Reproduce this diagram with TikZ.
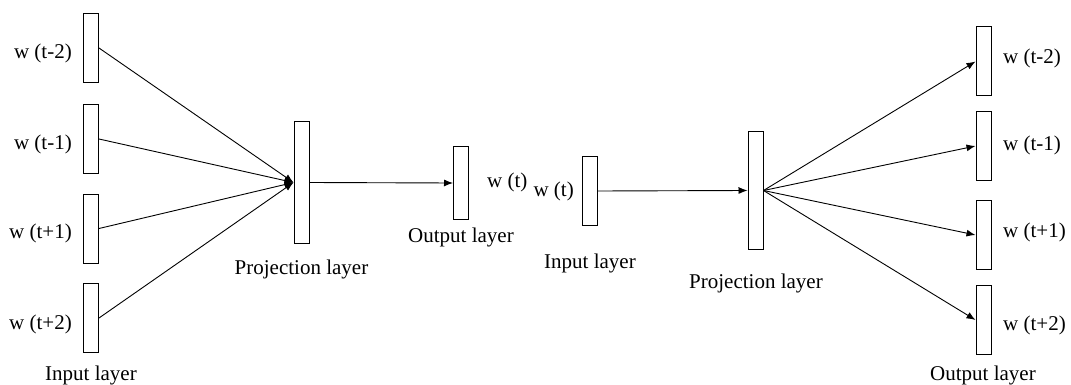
\documentclass[tikz,border=0pt]{standalone}
\usepackage{fontspec}
\setmainfont{Liberation Serif}
\usetikzlibrary{arrows.meta}
\begin{document}
\begin{tikzpicture}[x=1pt,y=-1pt,
    layer/.style={rectangle,draw,line width=1pt,minimum width=15pt,minimum height=69pt,inner sep=0pt},
    lbl/.style={font=\fontsize{21}{25}\selectfont,inner sep=0pt},
    conn/.style={line width=0.9pt,-{Latex[length=9pt,width=7pt]}}]
\useasboundingbox (0,0) rectangle (1071,385);
% CBOW
\node[layer] (i1) at (91,48) {};
\node[layer] (i2) at (91,139) {};
\node[layer] (i3) at (91,228.5) {};
\node[layer] (i4) at (91,318) {};
\node[layer,minimum height=121pt] (p1) at (301.5,182.5) {};
\node[layer,minimum height=72pt] (o1) at (461,183) {};
\node[lbl,anchor=east] (wi1) at (72,53) {w (t-2)};
\node[lbl,anchor=east] (wi2) at (72,144) {w (t-1)};
\node[lbl,anchor=east] (wi3) at (72,233) {w (t+1)};
\node[lbl,anchor=east] (wi4) at (72,324) {w (t+2)};
\node[lbl,anchor=west] (wo1) at (487,182) {w (t)};
\draw[conn] (i1.east) -- (p1.west);
\draw[conn] (i2.east) -- (p1.west);
\draw[conn] (i3.east) -- (p1.west);
\draw[conn] (i4.east) -- (p1.west);
\draw[conn] (p1.east) -- (o1.west);
\node[lbl] (t1) at (91,375) {Input layer};
\node[lbl] (t2) at (301.5,269) {Projection layer};
\node[lbl] (t3) at (461,237) {Output layer};
% Skip-gram
\node[layer,minimum height=68pt] (i5) at (589.5,191) {};
\node[layer,minimum height=117pt] (p2) at (755.5,190.5) {};
\node[layer] (o2) at (983.5,61.5) {};
\node[layer] (o3) at (983.5,146) {};
\node[layer] (o4) at (983.5,235) {};
\node[layer] (o5) at (983.5,320) {};
\node[lbl,anchor=east] (wi5) at (574,191) {w (t)};
\node[lbl,anchor=west] (wo2) at (1003,58) {w (t-2)};
\node[lbl,anchor=west] (wo3) at (1003,145) {w (t-1)};
\node[lbl,anchor=west] (wo4) at (1003,232) {w (t+1)};
\node[lbl,anchor=west] (wo5) at (1003,325) {w (t+2)};
\draw[conn] (i5.east) -- (p2.west);
\draw[conn] (p2.east) -- (o2.west);
\draw[conn] (p2.east) -- (o3.west);
\draw[conn] (p2.east) -- (o4.west);
\draw[conn] (p2.east) -- (o5.west);
\node[lbl] (t4) at (590,263) {Input layer};
\node[lbl] (t5) at (756,283) {Projection layer};
\node[lbl] (t6) at (983,375) {Output layer};
\end{tikzpicture}
\end{document}
